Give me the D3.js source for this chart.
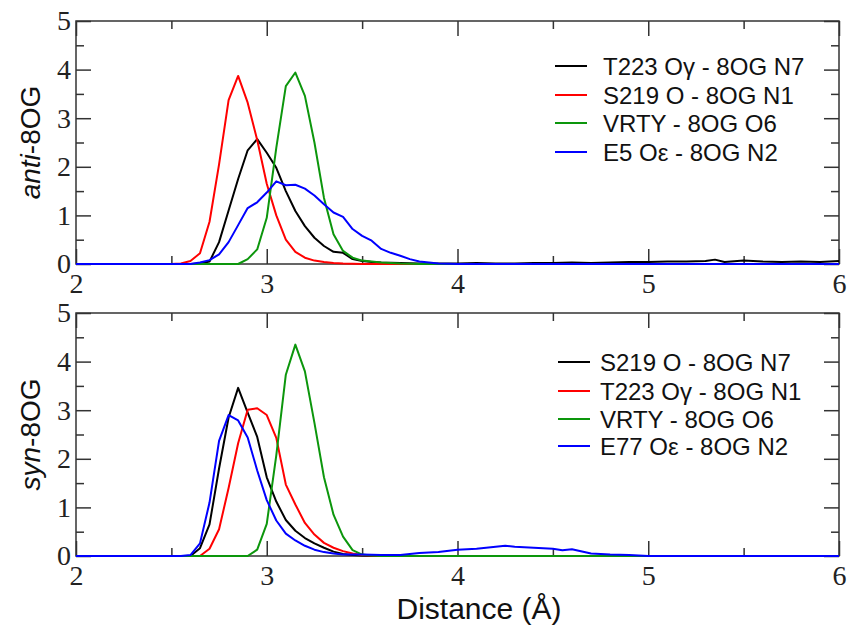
<!DOCTYPE html>
<html>
<head>
<meta charset="utf-8">
<script src="https://cdn.jsdelivr.net/npm/d3@7"></script>
<style>
  body { margin: 0; background: #fff; }
  svg { display: block; }
  .tick text { font-family: "Times New Roman", "Liberation Serif", Tinos, "DejaVu Serif", serif; }
</style>
</head>
<body>
<div id="chart"></div>
<script>
// distance (Å), g(r) pairs
let antiBlack = [[2.0,0],[2.6,0],[2.65,0.01],[2.7,0.05],[2.75,0.45],[2.8,1.1],[2.85,1.75],[2.9,2.34],[2.95,2.57],[3.0,2.29],[3.05,1.98],[3.1,1.5],[3.15,1.09],[3.2,0.78],[3.25,0.54],[3.3,0.37],[3.35,0.25],[3.4,0.23],[3.45,0.1],[3.5,0.06],[3.55,0.04],[3.6,0.03],[3.7,0.02],[3.8,0.01],[3.9,0.01],[4.0,0.01],[4.1,0.02],[4.2,0.01],[4.3,0.01],[4.4,0.02],[4.5,0.02],[4.6,0.03],[4.7,0.02],[4.8,0.03],[4.9,0.04],[5.0,0.04],[5.1,0.05],[5.2,0.05],[5.3,0.06],[5.35,0.09],[5.4,0.04],[5.5,0.07],[5.6,0.05],[5.7,0.04],[5.8,0.05],[5.9,0.04],[6.0,0.06]]
let antiRed = [[2.0,0],[2.5,0],[2.55,0.01],[2.6,0.06],[2.65,0.22],[2.7,0.87],[2.75,2.05],[2.8,3.37],[2.85,3.87],[2.9,3.32],[2.95,2.55],[3.0,1.65],[3.05,1.0],[3.1,0.5],[3.15,0.25],[3.2,0.13],[3.25,0.07],[3.3,0.04],[3.35,0.02],[3.4,0.01],[3.5,0],[6.0,0]]
let antiGreen = [[2.0,0],[2.85,0],[2.9,0.1],[2.95,0.3],[3.0,0.95],[3.05,2.39],[3.1,3.66],[3.15,3.94],[3.2,3.46],[3.25,2.5],[3.3,1.36],[3.35,0.61],[3.4,0.27],[3.45,0.13],[3.5,0.07],[3.55,0.05],[3.6,0.03],[3.7,0.01],[3.8,0],[6.0,0]]
let antiBlue = [[2.0,0],[2.6,0],[2.65,0.03],[2.7,0.08],[2.75,0.2],[2.8,0.45],[2.85,0.8],[2.9,1.15],[2.95,1.27],[3.0,1.47],[3.05,1.7],[3.1,1.62],[3.15,1.63],[3.2,1.55],[3.25,1.41],[3.3,1.23],[3.35,1.06],[3.4,0.97],[3.45,0.72],[3.5,0.58],[3.55,0.48],[3.6,0.31],[3.65,0.23],[3.7,0.17],[3.75,0.1],[3.8,0.05],[3.85,0.03],[3.9,0.01],[4.0,0],[6.0,0]]

let synBlack = [[2.0,0],[2.6,0],[2.65,0.16],[2.7,0.65],[2.75,1.8],[2.8,2.85],[2.85,3.46],[2.9,2.95],[2.95,2.45],[3.0,1.62],[3.05,1.12],[3.1,0.74],[3.15,0.52],[3.2,0.37],[3.25,0.26],[3.3,0.17],[3.35,0.09],[3.4,0.04],[3.45,0.02],[3.5,0.01],[3.6,0],[6.0,0]]
let synRed = [[2.0,0],[2.65,0],[2.7,0.15],[2.75,0.55],[2.8,1.4],[2.85,2.32],[2.9,3.01],[2.95,3.04],[3.0,2.9],[3.05,2.43],[3.1,1.47],[3.15,1.06],[3.2,0.68],[3.25,0.44],[3.3,0.27],[3.35,0.17],[3.4,0.1],[3.45,0.05],[3.5,0.02],[3.6,0],[6.0,0]]
let synGreen = [[2.0,0],[2.9,0],[2.95,0.13],[3.0,0.66],[3.05,2.07],[3.1,3.73],[3.15,4.35],[3.2,3.8],[3.25,2.74],[3.3,1.62],[3.35,0.85],[3.4,0.4],[3.45,0.12],[3.5,0.03],[3.55,0.01],[3.6,0],[6.0,0]]
let synBlue = [[2.0,0],[2.55,0],[2.6,0.02],[2.65,0.26],[2.7,1.1],[2.75,2.37],[2.8,2.9],[2.85,2.79],[2.9,2.44],[2.95,1.76],[3.0,1.15],[3.05,0.73],[3.1,0.46],[3.15,0.32],[3.2,0.21],[3.25,0.13],[3.3,0.08],[3.35,0.05],[3.4,0.03],[3.5,0.03],[3.6,0.02],[3.7,0.02],[3.8,0.06],[3.9,0.08],[4.0,0.13],[4.1,0.15],[4.2,0.19],[4.25,0.21],[4.3,0.19],[4.4,0.17],[4.5,0.15],[4.55,0.12],[4.6,0.14],[4.7,0.05],[4.8,0.03],[4.9,0.02],[5.0,0],[6.0,0]]

let antiLabels = ['T223 Oγ - 8OG N7', 'S219 O - 8OG N1', 'VRTY - 8OG O6', 'E5 Oε - 8OG N2']
let synLabels = ['S219 O - 8OG N7', 'T223 Oγ - 8OG N1', 'VRTY - 8OG O6', 'E77 Oε - 8OG N2']
let colors = ['#000000', '#ff0000', '#0c960c', '#0000ff']

let xMajor = [2, 3, 4, 5, 6]
let xMinor = [2.5, 3.5, 4.5, 5.5]
let yMajor = [0, 1, 2, 3, 4, 5]
let yMinor = [0.5, 1.5, 2.5, 3.5, 4.5]

let width = 849
let height = 631
let left = 76
let right = 839

let svg = d3
  .select('#chart')
  .append('svg')
  .attr('width', width)
  .attr('height', height)

let x = d3.scaleLinear().domain([2, 6]).range([left, right])
let fmt = d3.format('d')

let panels = [
  { top: 21, bottom: 264, series: [antiBlack, antiRed, antiGreen, antiBlue], labels: antiLabels, italic: 'anti', rest: '-8OG', legendY: [66, 95, 123, 152], legendX: 555, textX: 603 },
  { top: 313, bottom: 556, series: [synBlack, synRed, synGreen, synBlue], labels: synLabels, italic: 'syn', rest: '-8OG', legendY: [362, 391, 419, 446], legendX: 558, textX: 600 }
]

panels.forEach(p => {
  let y = d3.scaleLinear().domain([0, 5]).range([p.bottom, p.top])
  let g = svg.append('g')

  let line = d3.line()
    .x(d => x(d[0]))
    .y(d => y(d[1]))

  // ticks on all four sides, pointing inward
  let axes = [
    [d3.axisBottom(x).tickValues(xMajor).tickSize(-15).tickPadding(9).tickFormat(fmt), p.bottom, 0],
    [d3.axisBottom(x).tickValues(xMinor).tickSize(-8).tickFormat(''), p.bottom, 0],
    [d3.axisTop(x).tickValues(xMajor).tickSize(-15).tickFormat(''), p.top, 0],
    [d3.axisTop(x).tickValues(xMinor).tickSize(-8).tickFormat(''), p.top, 0],
    [d3.axisLeft(y).tickValues(yMajor).tickSize(-15).tickPadding(5).tickFormat(fmt), 0, left],
    [d3.axisLeft(y).tickValues(yMinor).tickSize(-8).tickFormat(''), 0, left],
    [d3.axisRight(y).tickValues(yMajor).tickSize(-15).tickFormat(''), 0, right],
    [d3.axisRight(y).tickValues(yMinor).tickSize(-8).tickFormat(''), 0, right]
  ]
  axes.forEach(a => {
    let ax = g.append('g')
      .attr('transform', `translate(${a[2]},${a[1]})`)
      .call(a[0])
      .attr('font-family', null)
      .attr('font-size', null)
    ax.select('.domain').remove()
    ax.selectAll('line').attr('stroke', '#333').attr('stroke-width', 1.5)
    ax.selectAll('text')
      .style('font-size', '28px')
      .attr('fill', '#222')
  })

  g.append('rect')
    .attr('x', left)
    .attr('y', p.top)
    .attr('width', right - left)
    .attr('height', p.bottom - p.top)
    .attr('fill', 'none')
    .attr('stroke', '#333')
    .attr('stroke-width', 1.5)

  g.selectAll('.series')
    .data(p.series)
    .enter()
    .append('path')
    .attr('class', 'series')
    .attr('d', line)
    .attr('fill', 'none')
    .attr('stroke', (d, i) => colors[i])
    .attr('stroke-width', 2)
    .attr('stroke-linejoin', 'round')

  // legend
  let leg = g.selectAll('.legend')
    .data(p.labels)
    .enter()
    .append('g')
    .attr('class', 'legend')
    .attr('transform', (d, i) => `translate(0,${p.legendY[i]})`)
  leg.append('line')
    .attr('x1', p.legendX)
    .attr('x2', p.legendX + 32)
    .attr('stroke', (d, i) => colors[i])
    .attr('stroke-width', 2)
  leg.append('text')
    .attr('x', p.textX)
    .attr('y', 9)
    .attr('font-family', '"Liberation Sans", Arial, sans-serif')
    .attr('font-size', 24)
    .attr('fill', '#111')
    .text(d => d)

  // y title
  let yt = g.append('text')
    .attr('transform', `translate(40,${(p.top + p.bottom) / 2}) rotate(-90)`)
    .attr('text-anchor', 'middle')
    .attr('font-family', '"Liberation Sans", Arial, sans-serif')
    .attr('font-size', 28)
    .attr('fill', '#111')
  yt.append('tspan').attr('font-style', 'italic').text(p.italic)
  yt.append('tspan').text(p.rest)
})

svg.append('text')
  .attr('x', 479)
  .attr('y', 619)
  .attr('text-anchor', 'middle')
  .attr('font-family', '"Liberation Sans", Arial, sans-serif')
  .attr('font-size', 30)
  .attr('fill', '#111')
  .text('Distance (Å)')
</script>
</body>
</html>
